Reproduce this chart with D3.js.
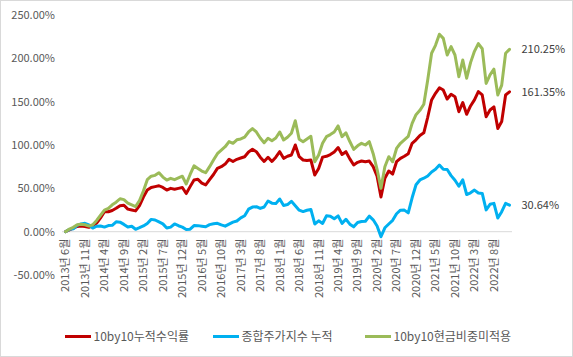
<!DOCTYPE html>
<html><head><meta charset="utf-8">
<script src="https://cdn.jsdelivr.net/npm/d3@7"></script>
<style>
html,body{margin:0;padding:0;background:#fff;}
svg text{font-family:"Noto Sans CJK KR","Noto Sans",sans-serif;}
</style></head>
<body><svg id="c" width="573" height="357"></svg>
<script>
// ---- data ----
const startYear = 2013, startMonth = 6, nMonths = 115;
const categories = [];
for (let k = 0; k < nMonths; k++) {
  const m = startMonth - 1 + k;
  categories.push(`${startYear + Math.floor(m / 12)}년 ${m % 12 + 1}월`);
}
const seriesNames = ["10by10누적수익률", "종합주가지수 누적", "10by10현금비중미적용"];
const red = [
  0, 2, 4, 6, 6.5, 6, 5,
  7, 10, 16, 23, 23, 24.5, 27, 30, 30.5, 26, 25, 24,
  30, 40, 48, 51, 52, 53, 51, 48, 50, 49, 50, 51,
  44, 52, 59.6, 60.4, 56, 54, 60, 66, 73, 75, 78, 83.5,
  81, 83.5, 85, 86.5, 92, 95, 92.3, 86, 81, 85.8, 81, 86,
  92.3, 84.6, 87, 88.5, 100, 86.5, 82.7, 82, 82.7, 65.4, 73, 86,
  87, 89, 92, 97, 89, 92.3, 84, 77, 80, 81.5, 80.7, 81.5,
  75, 64, 40, 61.6, 70, 66.5, 80.7, 84.6, 87, 90, 102, 106,
  111, 114, 132, 152, 159.6, 166, 163.4, 153, 158.5, 155.7, 138.4, 149,
  135.4, 145, 152, 161.5, 157.7, 132.6, 140.4, 144, 119, 127, 157.7, 161.35
];
const blue = [
  0, 2.7, 3.4, 7.2, 9.0, 9.7, 7.9,
  4.2, 6.3, 6.6, 5.3, 7.1, 7.4, 11.4, 11.0, 8.4, 5.4, 6.3, 2.8,
  4.6, 6.6, 9.5, 14.2, 13.5, 11.3, 9.0, 4.2, 5.3, 8.9, 6.9, 5.3,
  2.6, 2.9, 7.1, 7.0, 6.4, 5.7, 8.2, 9.2, 9.7, 7.8, 6.4, 8.8,
  11.0, 12.3, 15.9, 18.4, 26.0, 28.4, 28.9, 26.8, 28.5, 35.4, 32.9, 32.4,
  37.7, 30.3, 31.3, 35.0, 30.0, 24.8, 23.2, 24.7, 25.7, 8.9, 12.5, 9.5,
  18.3, 17.8, 14.9, 18.3, 9.6, 14.3, 8.7, 5.6, 10.7, 11.8, 12.1, 17.9,
  13.7, 6.6, -5.8, 4.5, 8.9, 13.1, 20.7, 24.8, 24.9, 21.7, 39.1, 54.2,
  59.7, 61.7, 64.3, 68.9, 71.9, 76.9, 71.9, 71.7, 64.7, 59.4, 52.4, 59.8,
  42.9, 44.9, 48.0, 44.6, 44.1, 25.2, 31.6, 32.7, 15.7, 23.1, 32.7, 30.64
];
const green = [
  0, 3, 5, 8, 8.5, 8, 6.5,
  8, 13, 19, 25, 27, 31, 34, 38, 37, 33, 31, 29,
  36, 47, 60, 64, 65, 68, 63, 59.6, 61.6, 60, 62, 64,
  55, 66, 76, 73, 70, 68, 75, 82.7, 90, 94, 98, 104,
  102, 106, 107, 109, 115, 119, 115, 108, 102.6, 107.7, 105, 108,
  115, 105.8, 109, 113.5, 128, 106.6, 103.8, 107, 110, 80.7, 88.5, 102,
  109.6, 112, 115, 122, 109.6, 114, 104, 95, 99, 102, 100, 103.8,
  90, 72, 50, 75, 86.5, 80.7, 96, 102, 106, 110, 125, 135,
  140, 147, 175, 205.8, 215, 227.7, 223, 203.8, 213.4, 203.8, 178.8, 198,
  177, 195, 208, 217, 211, 171, 181, 187.5, 157.7, 169, 205.8, 210.25
];
const yTicks = [-50, 0, 50, 100, 150, 200, 250];
const labelEvery = 5;
const colors = ["#C00000", "#00B0F0", "#9BBB59"];

// ---- drawing ----
const svg = d3.select("#c");
svg.append("rect").attr("x", 0.5).attr("y", 0.5).attr("width", 572).attr("height", 356)
  .attr("fill", "#fff").attr("stroke", "#d9d9d9");

const x = d3.scalePoint().domain(categories).range([65.5, 509.5]);
const y = d3.scaleLinear().domain([-50, 250]).range([275.05, 14.95]);

// y axis
const yAxis = svg.append("g").attr("transform", "translate(61,0)")
  .call(d3.axisLeft(y).tickValues(yTicks).tickSize(0).tickPadding(6)
    .tickFormat(d => d.toFixed(2) + "%"));
yAxis.select(".domain").remove();
yAxis.selectAll("text").attr("fill", "#595959").style("font-size", "11px");

// zero line
svg.append("line").attr("x1", 62).attr("x2", 512)
  .attr("y1", y(0)).attr("y2", y(0)).attr("stroke", "#d9d9d9").attr("stroke-width", 1);

// x labels
const xl = svg.append("g");
categories.forEach((c, i) => {
  if (i % labelEvery !== 0) return;
  xl.append("text")
    .attr("transform", `translate(${x(c)},${y(0) + 7}) rotate(-90)`)
    .attr("text-anchor", "end").attr("dy", "0.35em")
    .attr("fill", "#595959").style("font-size", "11px").text(c);
});

// lines (Excel series order)
const data = [red, blue, green];
const line = d3.line().x((d, i) => x(categories[i])).y(d => y(d));
data.forEach((s, k) => {
  svg.append("path").datum(s).attr("d", line).attr("fill", "none")
    .attr("stroke", colors[k]).attr("stroke-width", 3)
    .attr("stroke-linejoin", "round").attr("stroke-linecap", "round");
});

// end labels
data.forEach((s, k) => {
  const v = s[s.length - 1];
  svg.append("text").attr("x", x(categories[s.length - 1]) + 12).attr("y", y(v))
    .attr("dy", "0.35em").attr("fill", "#404040").style("font-size", "11px")
    .text(v.toFixed(2) + "%");
});

// legend
const legX = [65, 213, 365];
seriesNames.forEach((n, k) => {
  const g = svg.append("g").attr("transform", `translate(${legX[k]},336.5)`);
  g.append("line").attr("x1", 0).attr("x2", 26).attr("y1", 0).attr("y2", 0)
    .attr("stroke", colors[k]).attr("stroke-width", 3);
  g.append("text").attr("x", 28.5).attr("dy", "0.35em").attr("fill", "#595959")
    .style("font-size", "12px").text(n);
});
</script></body></html>
